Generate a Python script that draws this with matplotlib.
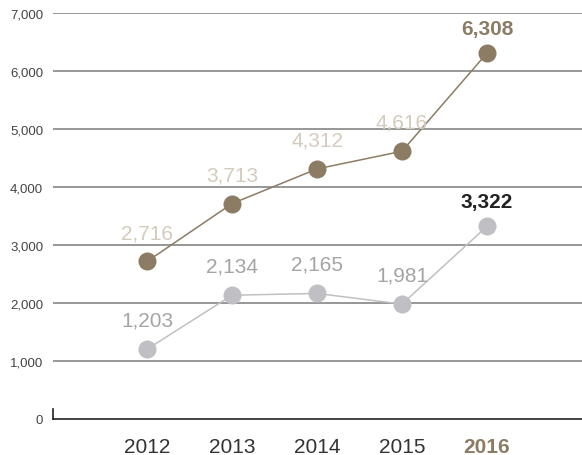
import matplotlib
matplotlib.use("Agg")
import matplotlib.pyplot as plt

plt.rcParams['font.family'] = ['Liberation Sans', 'DejaVu Sans']

years = ["2012", "2013", "2014", "2015", "2016"]
series_top = [2716, 3713, 4312, 4616, 6308]
series_bottom = [1203, 2134, 2165, 1981, 3322]
yticks = [0, 1000, 2000, 3000, 4000, 5000, 6000, 7000]

BROWN = "#8c7c64"
BROWN_LIGHT = "#d4cbbd"
GRAY = "#c0c0c4"
GRAY_LABEL = "#a4a4a6"

fig = plt.figure(figsize=(5.82, 4.56), dpi=100)
ax = fig.add_axes([53/582, 1 - 420/456, 1 - 53/582, 406/456])

x = list(range(len(years)))
ax.set_xlim(-94/85, 4 + 95/85)
ax.set_ylim(0, 7000)

for v in yticks[1:]:
    ax.axhline(v, color="#7a7a7a", lw=1.1, zorder=1)

ax.plot(x, series_top, color=BROWN, lw=1.1, marker="o", ms=13,
        markerfacecolor=BROWN, markeredgecolor="none", zorder=3)
ax.plot(x, series_bottom, color=GRAY, lw=1.1, marker="o", ms=13,
        markerfacecolor=GRAY, markeredgecolor="none", zorder=3)

last = len(years) - 1
for i, v in enumerate(series_top):
    if i == last:
        ax.annotate(f"{v:,}", (i, v), xytext=(0, 11), textcoords="offset points",
                    ha="center", va="bottom", fontsize=15, fontweight="bold", color=BROWN)
    else:
        ax.annotate(f"{v:,}", (i, v), xytext=(0, 14), textcoords="offset points",
                    ha="center", va="bottom", fontsize=15, color=BROWN_LIGHT)
for i, v in enumerate(series_bottom):
    if i == last:
        ax.annotate(f"{v:,}", (i, v), xytext=(0, 11), textcoords="offset points",
                    ha="center", va="bottom", fontsize=15, fontweight="bold", color="#222222")
    else:
        ax.annotate(f"{v:,}", (i, v), xytext=(0, 14), textcoords="offset points",
                    ha="center", va="bottom", fontsize=15, color=GRAY_LABEL)

ax.set_xticks(x)
ax.set_xticklabels(years, fontsize=15, color="#333333")
lbls = ax.get_xticklabels()
lbls[last].set_fontweight("bold")
lbls[last].set_color(BROWN)
ax.tick_params(axis="x", length=0, pad=13)

ax.set_yticks(yticks)
ax.set_yticklabels([f"{v:,}" for v in yticks], fontsize=9.5, color="#444444")
ax.tick_params(axis="y", length=0, pad=7)

for s in ["top", "right"]:
    ax.spines[s].set_visible(False)
ax.spines["bottom"].set_color("#222222")
ax.spines["bottom"].set_linewidth(1.2)
ax.spines["left"].set_color("#222222")
ax.spines["left"].set_linewidth(1.2)
ax.spines["left"].set_bounds(0, 170)

fig.savefig("out.png", dpi=100)
